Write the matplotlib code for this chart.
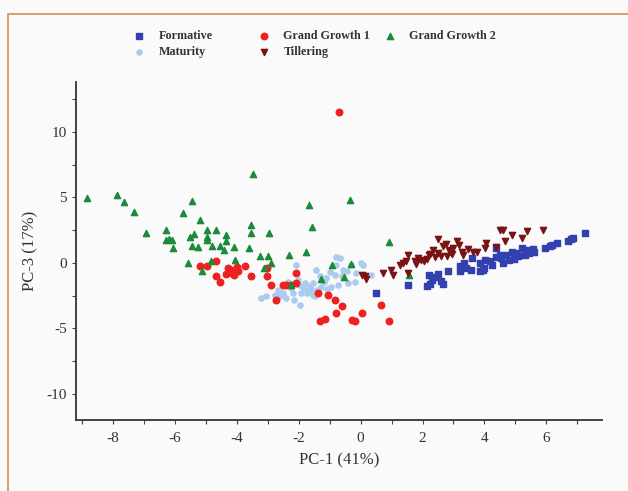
import matplotlib.pyplot as plt
from matplotlib.patches import Rectangle
from matplotlib.ticker import MultipleLocator

plt.rcParams['font.family'] = ['Liberation Serif', 'DejaVu Serif']
plt.rcParams['axes.unicode_minus'] = False

# PCA scores (PC-1, PC-3) for each growth stage
formative_x = [0.50, 1.54, 2.15, 2.25, 2.30, 2.40, 2.50, 2.60, 2.65, 2.20, 2.83, 3.20, 3.22, 3.35,
               3.58, 3.61, 3.85, 3.85, 3.96, 4.01, 4.17, 4.39, 4.39, 4.55, 4.71, 4.88, 5.04, 5.20,
               5.36, 5.58, 5.95, 6.12, 6.33, 6.71, 6.87, 7.25, 4.25, 4.00, 4.60, 4.80, 5.10, 5.45,
               5.60, 6.20, 6.80, 4.50, 3.40, 4.95, 5.30]
formative_y = [-2.32, -1.68, -1.75, -1.60, -1.30, -1.05, -0.85, -1.40, -1.65, -0.95, -0.66, -0.66,
               -0.28, -0.02, -0.53, 0.36, -0.02, -0.66, -0.53, 0.23, 0.10, 1.12, 0.48, 0.36, 0.61,
               0.86, 0.74, 1.12, 0.99, 1.05, 1.12, 1.30, 1.50, 1.70, 1.88, 2.31, -0.20, -0.40, 0.00,
               0.25, 0.50, 0.75, 0.80, 1.35, 1.80, 0.60, -0.40, 0.30, 0.60]

maturity_x = [-0.81, -2.08, 0.08, -1.43, -1.81, -1.70, -1.54, -1.92, -1.27, -1.11, -0.84, -0.57,
              -0.30, -0.14, -0.41, -0.73, -0.95, -2.24, -2.51, -2.68, -3.21, -3.05, -2.40, -1.97,
              -2.14, -1.49, -1.33, -2.03, -2.35, 0.35, -0.68, -0.19, 0.02, -2.78, -1.65, -1.75,
              -1.60, -1.85, -2.00, -1.40, -1.20, -0.60, -0.45, -1.00, -2.60, -1.55, -0.80, -2.20,
              -1.10]
maturity_y = [0.48, -0.15, -0.15, -0.53, -1.55, -2.06, -1.55, -2.31, -1.81, -1.17, -0.92, -0.53,
              -0.15, -0.79, -1.55, -1.68, -1.81, -1.93, -2.31, -2.06, -2.70, -2.57, -2.70, -3.21,
              -2.82, -2.57, -1.04, -1.30, -1.43, -0.92, 0.36, -1.43, -0.02, -2.44, -1.80, -2.30,
              -2.00, -1.90, -1.70, -2.10, -1.50, -1.00, -0.60, -0.70, -2.50, -2.45, -0.20, -2.30,
              -2.00]

gg1_x = [-5.20, -4.95, -4.68, -4.68, -4.55, -4.30, -4.20, -4.10, -4.00, -4.15, -3.95, -4.35,
         -3.75, -3.54, -3.03, -3.03, -2.90, -2.74, -2.51, -2.40, -2.24, -2.09, -2.09, -1.38,
         -1.05, -0.82, -0.60, -0.80, -1.31, -1.16, -0.28, -0.17, 0.05, 0.66, 0.92, -0.69]
gg1_y = [-0.28, -0.28, 0.10, -1.04, -1.43, -0.40, -0.55, -0.90, -0.35, -0.75, -0.60, -0.85,
         -0.23, -1.04, -0.41, -1.04, -1.68, -2.82, -1.68, -1.68, -1.68, -1.55, -0.79, -2.31,
         -2.44, -2.82, -3.28, -3.84, -4.48, -4.30, -4.40, -4.48, -3.84, -3.21, -4.48, 11.50]

gg2_x = [-8.83, -7.88, -7.64, -7.34, -6.94, -6.29, -6.30, -6.20, -6.10, -6.08, -5.75, -5.44,
         -5.20, -5.50, -5.40, -5.45, -5.25, -5.57, -5.14, -4.95, -4.66, -4.95, -4.95, -4.80,
         -4.55, -4.84, -4.34, -4.34, -4.42, -4.10, -4.07, -3.61, -3.54, -3.54, -3.47, -3.26,
         -3.00, -3.13, -2.96, -2.90, -2.30, -2.26, -1.77, -1.66, -1.56, -1.29, -0.93, -0.54,
         -0.36, -0.32, 0.92, 1.56]
gg2_y = [4.94, 5.19, 4.63, 3.87, 2.27, 2.52, 1.76, 1.80, 1.76, 1.12, 3.79, 4.68,
         3.28, 2.00, 2.20, 1.30, 1.20, -0.03, -0.66, 2.52, 2.52, 2.00, 1.76, 1.30,
         1.30, 0.10, 2.10, 1.70, 0.99, 1.20, 0.20, 1.12, 2.90, 2.27, 6.77, 0.53,
         0.53, -0.41, 2.27, -0.03, 0.58, -1.68, 0.86, 4.43, 2.70, -1.24, -0.18, -1.12,
         4.76, -0.10, 1.55, -0.92]

till_x = [4.50, 4.61, 4.88, 5.36, 5.88, 5.20, 4.66, 2.50, 2.77, 3.12, 3.17, 3.47, 4.05, 4.01,
          4.39, 3.76, 3.63, 3.26, 3.31, 2.85, 2.95, 2.80, 2.90, 2.35, 2.50, 2.60, 2.40, 2.15,
          2.05, 1.95, 1.85, 1.75, 1.80, 1.53, 1.48, 1.37, 1.26, 0.99, 1.05, 0.72, 0.13, 0.18,
          0.05, 1.54, 2.20, 3.00, 2.65, 2.25]
till_y = [2.52, 2.47, 2.14, 2.39, 2.47, 1.88, 1.63, 1.81, 1.45, 1.63, 1.37, 1.05, 1.50, 1.12,
          1.20, 0.79, 0.86, 0.86, 0.61, 0.95, 0.65, 0.55, 0.80, 0.95, 0.75, 0.50, 0.45, 0.30,
          0.10, 0.20, 0.35, 0.15, -0.10, 0.61, 0.10, -0.02, -0.15, -0.53, -0.92, -0.79, -1.04,
          -1.24, -0.92, -0.79, 0.60, 1.10, 1.25, 0.70]

fig = plt.figure(figsize=(6.28, 4.91), dpi=100, facecolor='#fafafa')
ax = fig.add_axes([76 / 628, 1 - 420 / 491, 526 / 628, 338 / 491])
ax.set_facecolor('#fafafa')

h_form = ax.scatter(formative_x, formative_y, marker='s', s=18, color='#3340b0', label='Formative', zorder=3)
h_mat = ax.scatter(maturity_x, maturity_y, marker='o', s=14, color='#a9cbee', label='Maturity', zorder=2)
h_gg1 = ax.scatter(gg1_x, gg1_y, marker='o', s=22, color='#ee2020', label='Grand Growth 1', zorder=3)
h_gg2 = ax.scatter(gg2_x, gg2_y, marker='^', s=20, color='#1d8a3a', label='Grand Growth 2', zorder=3)
h_till = ax.scatter(till_x, till_y, marker='v', s=20, color='#7a1414', label='Tillering', zorder=3)

ax.set_xlim(-9.2, 7.8)
ax.set_ylim(-12, 13.8)
ax.xaxis.set_major_locator(MultipleLocator(2))
ax.xaxis.set_minor_locator(MultipleLocator(1))
ax.yaxis.set_major_locator(MultipleLocator(5))
ax.yaxis.set_minor_locator(MultipleLocator(2.5))
ax.tick_params(which='both', direction='out', length=3, width=0.8, color='#444444',
               labelsize=11, labelcolor='#333333')
ax.tick_params(axis='x', pad=6)

for side in ['top', 'right']:
    ax.spines[side].set_visible(False)
for side in ['left', 'bottom']:
    ax.spines[side].set_color('#333333')
    ax.spines[side].set_linewidth(1.3)

ax.set_xlabel('PC-1 (41%)', fontsize=12, color='#333333', labelpad=5)
ax.set_ylabel('PC-3 (17%)', fontsize=12, color='#333333', labelpad=6)

# legend laid out in three columns above the plot
leg_font = {'family': 'Liberation Serif', 'weight': 'bold', 'size': 8.7}
for handles, xpos in [([h_form, h_mat], 133), ([h_gg1, h_till], 258), ([h_gg2], 384)]:
    leg = fig.legend(handles=handles, loc='upper left', bbox_to_anchor=(xpos / 628, 1 - 30 / 491),
                     frameon=False, prop=leg_font, handlelength=1.0, handletextpad=1.1,
                     borderpad=0, borderaxespad=0, labelspacing=0.35, scatterpoints=1)
    for t in leg.get_texts():
        t.set_color('#333333')

# orange frame around the figure
fig.patches.append(Rectangle((8 / 628, -0.1), 1.2, 1 - 14 / 491 + 0.1, transform=fig.transFigure,
                             fill=False, edgecolor='#d8965c', linewidth=1.3))

fig.savefig('out.png', dpi=100, facecolor=fig.get_facecolor())
